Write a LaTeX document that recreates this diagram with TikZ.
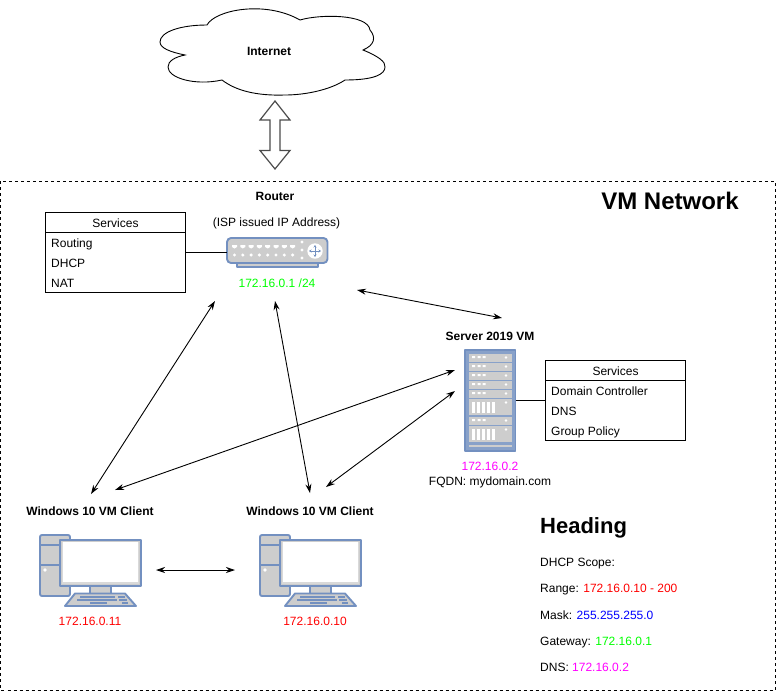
\documentclass[tikz,border=0pt]{standalone}
\usepackage{fontspec}
\setmainfont{Liberation Sans}
\usepackage{xcolor}
\usetikzlibrary{arrows.meta}
\definecolor{devfill}{HTML}{CDCDCD}
\definecolor{devline}{HTML}{7390C0}
\definecolor{ipred}{HTML}{FF0000}
\definecolor{ipgreen}{HTML}{00FF00}
\definecolor{ipmagenta}{HTML}{FF00FF}
\tikzset{
  lbl/.style={font=\fontsize{12}{14}\selectfont, inner sep=0pt, anchor=base},
  bold/.style={lbl, font=\fontsize{12}{14}\selectfont\bfseries},
  link/.style={<->, >={Stealth[length=9pt,width=6pt]}, line width=0.9pt},
  dev/.style={draw=devline, fill=devfill, line width=1.9pt, line join=round},
  svc/.style={draw, line width=0.9pt, fill=white},
  item/.style={lbl, anchor=base west}
}
% desktop computer, shifted to the left of its tower
\newcommand{\pcicon}[2]{
  \begin{scope}[shift={(#1,#2)}]
    \draw[dev, rounded corners=2pt] (0,1) rectangle (30,62);
    \draw[dev] (0,11) -- (30,11) (0,31) -- (30,31);
    \fill[white] (5,36) circle (1.8);
    \draw[dev] (50,50) rectangle (71,61);
    \draw[dev] (20,6) rectangle (101,52);
    \fill[white!85!black] (22,8) rectangle (99,50);
    \fill[white] (23,8) rectangle (98,48);
    \draw[dev] (35,59.5) -- (85,59.5) -- (96,72) -- (25,72) -- cycle;
    \draw[devline, line width=1.6pt] (40,63) -- (75,63) (78,63) -- (85,63) (37,66) -- (77,66) (79,66) -- (87,66) (50,69) -- (67,69) (82,69) -- (88,69);
  \end{scope}
}
% one shelf of the server rack
\newcommand{\rackunit}[2]{
  \fill[devfill] (#1,#2) rectangle ++(43,7.5);
  \fill[white] (#1+3,#2+2) rectangle ++(3.2,2) (#1+8.5,#2+2) rectangle ++(3.2,2) (#1+13.5,#2+2) rectangle ++(3.2,2);
  \fill[white] (#1+37,#2+3.5) circle (1.4);
}
\newcommand{\rackbig}[2]{
  \fill[devfill] (#1,#2) rectangle ++(43,16);
  \foreach \k in {1,...,5}{\fill[white] (#1+\k*5-2,#2+3) rectangle ++(3.4,11);}
  \fill[white] (#1+37,#2+3.5) circle (1.4);
}
\newcommand{\svcbox}[6]{
  \draw[svc] (#2,#3) rectangle (#2+140,#3+80);
  \draw[line width=0.9pt] (#2,#3+20) -- (#2+140,#3+20);
  \node[lbl] (#1) at (#2+70,#3+15) {Services};
  \node[item] (#1a) at (#2+5.5,#3+35) {#4};
  \node[item] (#1b) at (#2+5.5,#3+55) {#5};
  \node[item] (#1c) at (#2+5.5,#3+75) {#6};
}
\begin{document}
\begin{tikzpicture}[x=1pt, y=-1pt]
  \useasboundingbox (0,0) rectangle (776,691);
  % Network frame
  \draw[dashed, line width=0.9pt, dash pattern=on 3pt off 3pt] (0.5,181) rectangle (775,690);
  \node[lbl, font=\fontsize{24}{28}\selectfont\bfseries] (title) at (670,209) {VM Network};
  % Cloud
  \draw[line width=0.9pt] (207,25) .. controls (215,10) and (265,0) .. (300,20)
    .. controls (320,14) and (368,14) .. (370,30) .. controls (376,37) and (375,45) .. (363,50)
    .. controls (378,56) and (386,62) .. (385,67) .. controls (385,74) and (375,80) .. (345,80)
    .. controls (330,90) and (305,95) .. (285,95) .. controls (255,96) and (235,90) .. (222,80)
    .. controls (195,86) and (168,78) .. (168,67) .. controls (168,61) and (175,57) .. (185,55)
    .. controls (170,52) and (160,48) .. (160,42) .. controls (160,32) and (180,25) .. (207,25) -- cycle;
  \node[bold] (internet) at (269,55) {Internet};
  % Block arrow
  \draw[line width=1.2pt, draw=black!70, line join=miter] (275,101) -- (290,120) -- (280,120) -- (280,150.5) -- (290,150.5) -- (275,169) -- (260,150.5) -- (270,150.5) -- (270,120) -- (260,120) -- cycle;
  % Router
  \node[bold] (routerlbl) at (275,200) {Router};
  \node[lbl] (isplbl) at (276.5,226) {(ISP issued IP Address)};
  \draw[dev] (237,263) rectangle (318,267);
  \draw[dev, rounded corners=4pt] (227,238) rectangle (327.5,263);
  \foreach \i in {0,...,7}{
    \fill[white] (232+\i*8.3,245) -- ++(5,0) -- ++(0,2) -- ++(-2.5,1.5) -- ++(-2.5,-1.5) -- cycle;
    \fill[white] (234.5+\i*8.3,255) circle (1.7);
  }
  \foreach \j in {242,250,258}{\fill[white] (302,\j) circle (1.7);}
  \fill[white] (315,251) circle (7.7);
  \draw[devline, line width=0.8pt, <->, >={Stealth[length=2.5pt,width=3pt]}] (315,245) -- (315,257);
  \draw[devline, line width=0.8pt, <->, >={Stealth[length=2.5pt,width=3pt]}] (309,251) -- (321,251);
  \coordinate (routerw) at (227,252);
  \node[lbl, text=ipgreen] (routerip) at (277,287) {172.16.0.1 /24};
  % Router services
  \svcbox{rsvc}{45.5}{212}{Routing}{DHCP}{NAT}
  \draw[line width=0.9pt] (185.5,252) -- (routerw);
  % Server
  \node[bold] (serverlbl) at (490,340) {Server 2019 VM};
  \draw[dev, fill=devline!85] (465,350) rectangle (515.5,451);
  \rackunit{469}{354}
  \rackunit{469}{363}
  \rackunit{469}{372}
  \rackunit{469}{381}
  \rackunit{469}{390}
  \rackbig{469}{399}
  \rackunit{469}{417}
  \rackbig{469}{426}
  \fill[devfill] (469,444.5) rectangle ++(43,2.5);
  \coordinate (serverw) at (515.5,400.5);
  \node[lbl, text=ipmagenta] (serverip) at (490,470) {172.16.0.2};
  \node[lbl] (fqdn) at (490,485) {FQDN: mydomain.com};
  % Server services
  \svcbox{ssvc}{545.5}{360}{Domain Controller}{DNS}{Group Policy}
  \draw[line width=0.9pt] (serverw) -- (545.5,400.5);
  % Clients
  \node[bold] (client1) at (90,515) {Windows 10 VM Client};
  \pcicon{40}{534}
  \node[lbl, text=ipred] (client1ip) at (90,625) {172.16.0.11};
  \node[bold] (client2) at (310,515) {Windows 10 VM Client};
  \pcicon{260}{534}
  \node[lbl, text=ipred] (client2ip) at (315,625) {172.16.0.10};
  % Connections
  \coordinate (a1) at (357,290); \coordinate (a2) at (502,318);
  \coordinate (b1) at (215,301); \coordinate (b2) at (91,494);
  \coordinate (c1) at (275,301); \coordinate (c2) at (310,493);
  \coordinate (d1) at (455,370); \coordinate (d2) at (115,490);
  \coordinate (e1) at (455,391); \coordinate (e2) at (326,487);
  \coordinate (f1) at (156,570); \coordinate (f2) at (235,570);
  \foreach \p/\q in {a1/a2,b1/b2,c1/c2,d1/d2,e1/e2,f1/f2}{\draw[link] (\p) -- (\q);}
  % Heading
  \node[item, font=\fontsize{22}{26}\selectfont\bfseries] (heading) at (540,533) {Heading};
  \node[item] (scope) at (540,566) {DHCP Scope:};
  \node[item] (range) at (540,592.5) {Range: \textcolor{ipred}{172.16.0.10 - 200}};
  \node[item] (mask) at (540,619) {Mask: \textcolor{blue}{255.255.255.0}};
  \node[item] (gateway) at (540,645) {Gateway: \textcolor{ipgreen}{172.16.0.1}};
  \node[item] (dns) at (540,671.5) {DNS: \textcolor{ipmagenta}{172.16.0.2}};
\end{tikzpicture}
\end{document}
